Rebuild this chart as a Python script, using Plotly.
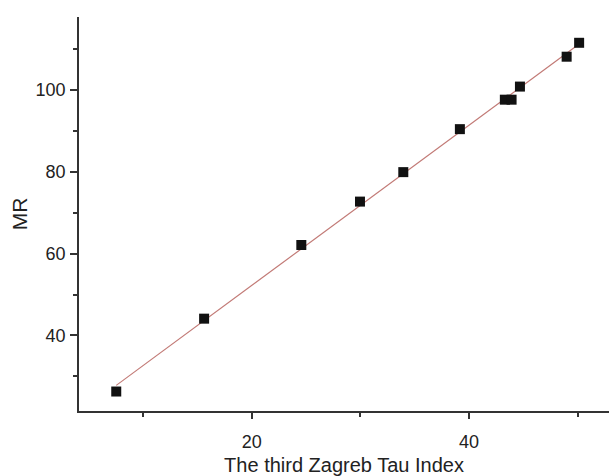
import numpy as np
import plotly.graph_objects as go

# Third Zagreb Tau index vs. molar refraction (MR)
tau_index = [7.53, 15.62, 24.57, 29.97, 33.96, 39.17, 43.31, 43.93, 44.70, 49.00, 50.15]
mr_values = [26.3, 44.1, 62.1, 72.7, 79.9, 90.4, 97.6, 97.6, 100.8, 108.1, 111.5]

x_ticks = [20, 40]
y_ticks = [40, 60, 80, 100]

# Least-squares regression line spanning the data
slope, intercept = np.polyfit(tau_index, mr_values, 1)
fit_x = np.array([min(tau_index), max(tau_index)])
fit_y = slope * fit_x + intercept

font_family = "Liberation Sans, Arial, sans-serif"

fig = go.Figure()
fig.add_trace(go.Scatter(
    x=fit_x, y=fit_y, mode="lines",
    line=dict(color="#c27a76", width=1.2),
    showlegend=False, hoverinfo="skip",
))
fig.add_trace(go.Scatter(
    x=tau_index, y=mr_values, mode="markers",
    marker=dict(symbol="square", size=10, color="#111111",
                line=dict(width=0)),
    showlegend=False,
))

fig.update_layout(
    width=609, height=476,
    margin=dict(l=79, r=0, t=17, b=63),
    paper_bgcolor="white", plot_bgcolor="white",
    font=dict(family=font_family, size=18, color="#222222"),
    xaxis=dict(
        range=[4.1, 52.9],
        tickmode="array", tickvals=x_ticks,
        ticks="outside", ticklen=6, tickwidth=1.5, tickcolor="#333333",
        minor=dict(ticks="outside", ticklen=4, tickwidth=1.5,
                   tickcolor="#333333", tick0=0, dtick=10),
        showline=True, linecolor="#333333", linewidth=1.8,
        showgrid=False, zeroline=False,
        ticklabelstandoff=7,
        title=dict(text="The third Zagreb Tau Index",
                   font=dict(size=20), standoff=10),
    ),
    yaxis=dict(
        range=[21.54, 117.8],
        tickmode="array", tickvals=y_ticks,
        ticks="outside", ticklen=7, tickwidth=1.5, tickcolor="#333333",
        minor=dict(ticks="outside", ticklen=4, tickwidth=1.5,
                   tickcolor="#333333", tick0=0, dtick=10),
        showline=True, linecolor="#333333", linewidth=1.8,
        showgrid=False, zeroline=False,
        ticklabelstandoff=1,
        title=dict(text="MR", font=dict(size=21), standoff=2),
    ),
)

fig.write_html("out.html")
